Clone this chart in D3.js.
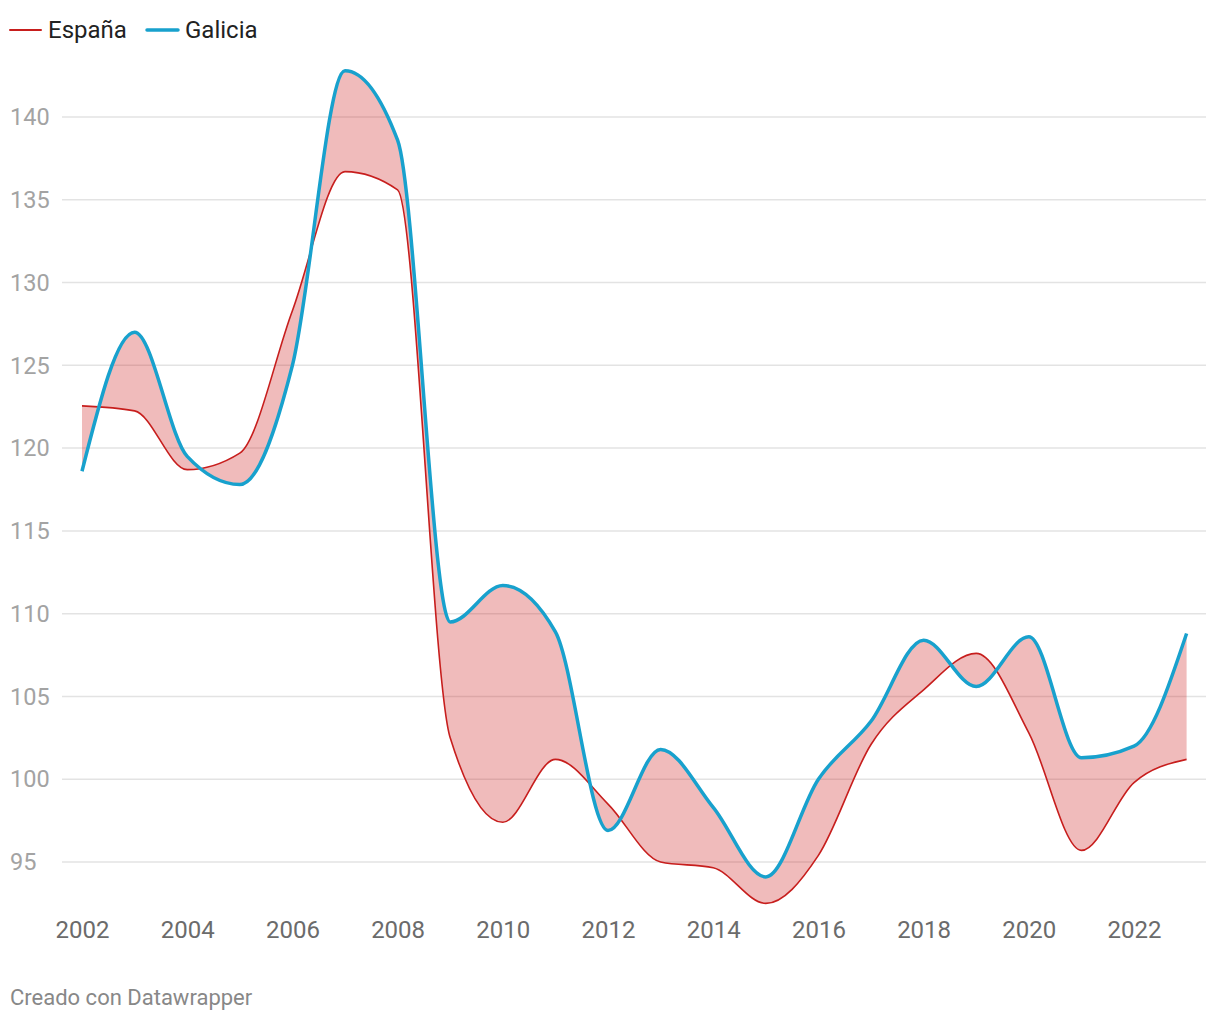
<!DOCTYPE html>
<html><head><meta charset="utf-8">
<script src="https://cdn.jsdelivr.net/npm/d3@7"></script>
<style>body{margin:0;background:#fff;font-family:Roboto,sans-serif}</style>
</head><body><svg id="c" width="1220" height="1020"></svg>
<script>
const years = [2002,2003,2004,2005,2006,2007,2008,2009,2010,2011,2012,2013,2014,2015,2016,2017,2018,2019,2020,2021,2022,2023];
const espana = [122.55,122.25,118.7,119.7,128.3,136.7,135.6,102.5,97.4,101.2,98.5,95.0,94.65,92.5,95.4,102.1,105.4,107.6,102.8,95.7,99.8,101.2];
const galicia = [118.6,127.0,119.5,117.8,125.0,142.8,138.6,109.5,111.7,108.9,96.9,101.8,98.3,94.1,100.0,103.5,108.4,105.6,108.6,101.3,102.0,108.8];
const yTicks = [95,100,105,110,115,120,125,130,135,140];
const xTicks = [2002,2004,2006,2008,2010,2012,2014,2016,2018,2020,2022];
const seriesNames = ["España","Galicia"];

const svg = d3.select("#c");
const x = d3.scaleLinear().domain([2002,2022]).range([82,1134]);
const y = d3.scaleLinear().domain([95,140]).range([862,117]);

// grid
const g = svg.append("g");
g.selectAll("line").data(yTicks).join("line")
  .attr("x1",62).attr("x2",1206).attr("y1",d=>y(d)).attr("y2",d=>y(d))
  .attr("stroke","#e3e3e3").attr("stroke-width",1.5);
g.selectAll("text").data(yTicks).join("text")
  .attr("x",10).attr("y",d=>y(d)).attr("dy","0.35em")
  .attr("fill","#a3a3a3").attr("font-size",23.5).text(d=>d);

// x axis labels
const xa = svg.append("g").attr("transform","translate(0,930)")
  .call(d3.axisBottom(x).tickValues(xTicks).tickFormat(d3.format("d")).tickSize(0));
xa.select(".domain").remove();
xa.selectAll("text").attr("font-family","Roboto,sans-serif").attr("font-size",24).attr("fill","#6b6b6b").attr("dy","0.35em").attr("y",0);

const data = years.map((yr,i)=>({yr,e:espana[i],g:galicia[i]}));
const curve = d3.curveMonotoneX;
svg.append("path").datum(data)
  .attr("d",d3.area().x(d=>x(d.yr)).y0(d=>y(d.e)).y1(d=>y(d.g)).curve(curve))
  .attr("fill","#cc1f1f").attr("fill-opacity",0.3);
svg.append("path").datum(data)
  .attr("d",d3.line().x(d=>x(d.yr)).y(d=>y(d.e)).curve(curve))
  .attr("fill","none").attr("stroke","#c71e1d").attr("stroke-width",1.6);
svg.append("path").datum(data)
  .attr("d",d3.line().x(d=>x(d.yr)).y(d=>y(d.g)).curve(curve))
  .attr("fill","none").attr("stroke","#18a1cd").attr("stroke-width",3.5).attr("stroke-linejoin","round");

// legend
const leg = [{n:seriesNames[0],c:"#c71e1d",w:2,x:10},{n:seriesNames[1],c:"#18a1cd",w:3.5,x:147}];
leg.forEach(l=>{
  svg.append("line").attr("x1",l.x).attr("x2",l.x+31).attr("y1",30).attr("y2",30)
    .attr("stroke",l.c).attr("stroke-width",l.w).attr("stroke-linecap","round");
  svg.append("text").attr("x",l.x+38).attr("y",30).attr("dy","0.35em")
    .attr("font-size",24).attr("fill","#222").text(l.n);
});

svg.append("text").attr("x",10).attr("y",997).attr("dy","0.35em")
  .attr("font-size",22).attr("fill","#888").text("Creado con Datawrapper");
</script></body></html>
